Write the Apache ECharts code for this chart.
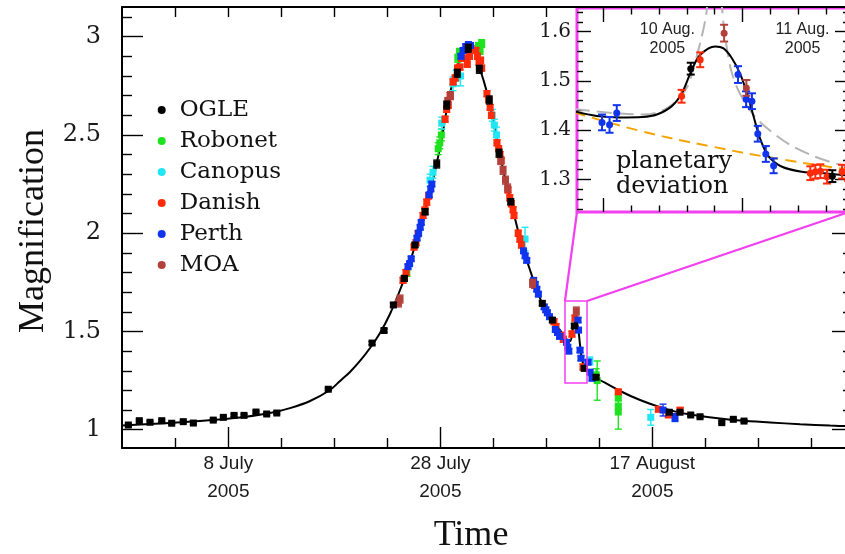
<!DOCTYPE html>
<html>
<head>
<meta charset="utf-8">
<script src="https://cdn.jsdelivr.net/npm/echarts@6/dist/echarts.min.js"></script>
<style>
  html, body { margin: 0; padding: 0; background: #fff; }
  #chart { width: 845px; height: 554px; }
</style>
</head>
<body>
<div id="chart"></div>
<script>
// ---------------------------------------------------------------------------
// Light curve of the 2005 microlensing event.
// Main panel: time in days counted from July (8 July = 8, 1 August = 32).
// Points are [day, magnification, error].
// ---------------------------------------------------------------------------
const ogleMain = [
  [-1.43,1.024,.006],[-0.40,1.046,.006],[0.61,1.038,.006],[1.72,1.046,.006],[2.66,1.033,.006],
  [3.75,1.041,.006],[4.70,1.034,.006],[6.58,1.049,.006],[7.53,1.063,.006],[8.54,1.073,.006],
  [9.48,1.073,.006],[10.61,1.090,.006],[11.62,1.080,.006],[12.57,1.085,.006],[17.43,1.206,.006],
  [21.56,1.441,.008],[22.69,1.505,.008],[23.57,1.635,.01],[24.60,1.770,.012],[25.61,1.940,.012],
  [26.56,2.109,.015],[27.66,2.352,.02],[28.60,2.652,.02],[29.60,2.814,.02],[30.64,2.941,.02],
  [31.68,2.834,.02],[32.62,2.678,.02],[33.54,2.407,.02],[34.64,2.160,.015],[37.62,1.643,.012],
  [38.57,1.558,.012],[40.64,1.528,.012],[41.58,1.312,.01],[42.69,1.267,.01],[49.60,1.089,.006],
  [50.61,1.089,.006],[51.62,1.075,.006],[52.50,1.066,.006],[54.55,1.036,.006],[55.64,1.053,.006],
  [56.65,1.044,.006]
];
const robonetMain = [
  [24.84,1.796,.015],[27.80,2.43,.03],[27.95,2.46,.03],[28.10,2.50,.03],[29.65,2.89,.02],
  [29.80,2.92,.02],[31.60,2.95,.02],[31.75,2.93,.02],[31.90,2.965,.02],[42.70,1.28,.03],
  [42.80,1.25,.10],[44.79,1.162,.015],[44.79,1.119,.015],[44.79,1.09,.087]
];
const canopusMain = [
  [27.03,2.27,.03],[27.31,2.31,.03],[28.13,2.56,.03],[29.20,2.76,.035],[29.50,2.79,.04],
  [29.90,2.80,.05],[32.90,2.60,.03],[33.10,2.55,.03],[33.30,2.50,.04],[35.99,1.97,.06],
  [42.10,1.35,.02],[47.85,1.063,.04]
];
const danishMain = [
  [24.48,1.760,.015],[24.62,1.770,.015],[24.76,1.800,.015],[25.52,1.930,.015],[25.71,1.952,.015],
  [25.90,1.998,.015],[26.37,2.090,.015],[26.55,2.118,.015],[26.72,2.158,.015],[26.90,2.190,.015],
  [28.45,2.580,.015],[28.60,2.630,.015],[28.75,2.652,.015],[28.92,2.700,.015],[29.20,2.770,.015],
  [29.40,2.790,.015],[29.62,2.840,.015],[29.85,2.845,.015],[30.00,2.890,.015],[30.30,2.930,.015],
  [30.45,2.890,.015],[30.60,2.950,.015],[30.75,2.900,.015],[30.90,2.940,.015],[30.55,2.860,.015],
  [31.35,2.930,.015],[31.50,2.900,.015],[31.65,2.870,.015],[31.80,2.880,.015],[31.90,2.840,.015],
  [32.40,2.710,.015],[32.55,2.680,.015],[32.70,2.640,.015],[32.82,2.600,.015],[33.35,2.460,.015],
  [33.50,2.430,.015],[33.63,2.400,.015],[33.75,2.370,.015],[34.39,2.220,.015],[34.55,2.180,.015],
  [34.70,2.150,.015],[34.86,2.120,.015],[34.95,2.090,.015],[35.35,2.000,.015],[35.50,1.970,.015],
  [35.65,1.940,.015],[36.90,1.735,.015],[38.72,1.550,.015],[38.91,1.525,.015],[39.40,1.480,.015],
  [39.60,1.460,.015],[40.42,1.487,.015],[40.70,1.568,.015],[41.46,1.319,.015],[44.79,1.193,.012],
  [48.57,1.104,.012],[49.51,1.075,.012],[50.62,1.100,.012]
];
const perthMain = [
  [24.95,1.830,.012],[25.10,1.845,.012],[25.25,1.870,.012],[25.80,1.975,.012],[25.95,2.000,.012],
  [26.10,2.030,.012],[26.20,2.055,.012],[26.95,2.195,.012],[27.10,2.225,.012],[27.20,2.250,.012],
  [29.95,2.900,.012],[30.15,2.930,.012],[30.40,2.950,.012],[30.65,2.960,.012],[30.85,2.955,.012],
  [35.85,1.910,.012],[36.00,1.885,.012],[36.15,1.862,.012],[36.80,1.760,.012],[36.95,1.740,.012],
  [37.10,1.715,.012],[37.25,1.690,.012],[37.80,1.625,.012],[37.95,1.610,.012],[38.10,1.595,.012],
  [38.30,1.575,.012],[38.85,1.510,.012],[39.05,1.495,.012],[39.25,1.475,.012],[39.90,1.445,.012],
  [40.02,1.420,.012],[40.12,1.400,.012],[40.99,1.558,.012],[41.04,1.507,.012],[41.18,1.405,.012],
  [41.27,1.364,.012],[41.93,1.344,.012],[42.12,1.293,.012],[42.31,1.262,.012],[49.01,1.100,.03],
  [50.14,1.062,.02]
];
const moaMain = [
  [24.05,1.645,.02],[24.20,1.665,.02],[28.70,2.670,.02],[28.95,2.700,.02],[33.70,2.370,.02],
  [33.92,2.320,.02],[34.15,2.270,.02],[34.35,2.230,.02],[36.70,1.745,.02],[40.83,1.604,.02]
];
// best-fit planetary model, [day, magnification]
const modelMain = [
  [-2.03,1.021],[1.56,1.032],[5.33,1.044],[9.10,1.062],[11.93,1.085],[13.82,1.110],[15.71,1.146],
  [17.59,1.202],[18.54,1.248],[19.48,1.294],[20.42,1.350],[21.37,1.416],[22.31,1.492],[23.25,1.589],
  [24.20,1.711],[25.14,1.853],[26.08,2.027],[27.03,2.210],[27.97,2.434],[28.63,2.635],[29.10,2.755],
  [29.58,2.845],[30.05,2.905],[30.52,2.942],[30.75,2.950],[31.18,2.925],[31.65,2.850],[32.12,2.770],
  [32.59,2.675],[33.04,2.555],[33.54,2.420],[34.10,2.280],[34.67,2.158],[35.52,1.975],[36.46,1.813],
  [37.59,1.645],[38.54,1.558],[39.29,1.507],[39.86,1.462],[40.24,1.451],[40.52,1.518],[40.81,1.553],
  [41.00,1.518],[41.18,1.431],[41.37,1.355],[41.65,1.314],[42.12,1.283],[43.07,1.253],[44.96,1.197],
  [46.84,1.151],[48.73,1.115],[50.62,1.087],[52.50,1.070],[54.39,1.057],[56.28,1.047],[59.11,1.037],
  [61.94,1.028],[64.77,1.021],[66.93,1.017]
];
const mainTickDays = [8, 28, 48];
const mainTickLabels = ['8 July\n2005', '28 July\n2005', '17 August\n2005'];
const mainMinorDays = [3, 13, 18, 23, 33, 38, 43, 53, 58, 63];
const mainTopDays = [3, 8, 13, 18, 23, 28, 33, 38];
const mainMajorMag = [1, 1.5, 2, 2.5, 3];
const mainMinorMag = [1.1,1.2,1.3,1.4,1.6,1.7,1.8,1.9,2.1,2.2,2.3,2.4,2.6,2.7,2.8,2.9,3.1];
const rightMajorMag = [1, 1.5, 2];
const rightMinorMag = [1.1,1.2,1.3,1.4,1.6,1.7,1.8,1.9];
// stretch of the main curve shown enlarged in the inset: [day from, day to], [mag low, mag high]
const zoomDays = [39.76, 41.84];
const zoomMags = [1.238, 1.655];

// ---------------------------------------------------------------------------
// Inset: time as day of August 2005.
// ---------------------------------------------------------------------------
const perthZoom = [
  [10.495,1.416,.016],[10.522,1.411,.016],[10.548,1.435,.016],[10.984,1.513,.017],[11.013,1.463,.016],
  [11.034,1.459,.016],[11.055,1.393,.016],[11.084,1.352,.016],[11.112,1.328,.015]
];
const danishZoom = [
  [10.781,1.469,.013],[10.848,1.543,.015],[11.244,1.313,.014],[11.262,1.316,.014],[11.280,1.317,.014],
  [11.304,1.306,.014],[11.358,1.316,.014],[11.380,1.311,.014]
];
const ogleZoom = [[10.814,1.525,.012],[11.323,1.307,.012]];
const moaZoom = [[10.934,1.597,.017],[11.014,1.486,.016]];
const modelZoom = [
  [10.397,1.438],[10.476,1.429],[10.560,1.426],[10.640,1.427],[10.692,1.432],
  [10.746,1.449],[10.782,1.475],[10.812,1.515],[10.842,1.549],[10.878,1.566],[10.902,1.570],
  [10.932,1.566],[10.962,1.546],[10.992,1.514],[11.016,1.475],[11.040,1.428],[11.064,1.382],
  [11.094,1.347],[11.142,1.326],[11.214,1.316],[11.309,1.312],[11.387,1.308]
];
const altModelZoom = [
  [10.397,1.443],[10.477,1.438],[10.560,1.434],[10.640,1.432],[10.693,1.436],[10.740,1.449],
  [10.776,1.468],[10.805,1.492],[10.830,1.539],[10.854,1.591],[10.869,1.632],[10.884,1.685],
  [10.916,1.685],[10.926,1.650],[10.934,1.603],[10.945,1.563],[10.959,1.522],[10.981,1.486],
  [11.010,1.455],[11.049,1.425],[11.100,1.399],[11.172,1.370],[11.250,1.349],[11.315,1.336],
  [11.387,1.325]
];
const singleLensZoom = [
  [10.397,1.436],[10.638,1.398],[10.890,1.367],[11.140,1.341],[11.387,1.320]
];
const insetMajorDays = [10.5, 11.0];
const insetMinorDays = [10.6, 10.7, 10.8, 10.9, 11.1, 11.2, 11.3];
const insetMajorMag = [1.3, 1.4, 1.5, 1.6];
const insetMinorMag = [1.24,1.26,1.28,1.32,1.34,1.36,1.38,1.42,1.44,1.46,1.48,1.52,1.54,1.56,1.58,1.62,1.64];
const insetDateLabels = ['10 Aug.\n2005', '11 Aug.\n2005'];

const telescopes = ['OGLE', 'Robonet', 'Canopus', 'Danish', 'Perth', 'MOA'];
const colors = {
  OGLE: '#000000', Robonet: '#1fe21f', Canopus: '#22e6f4',
  Danish: '#ff2b0a', Perth: '#1034ee', MOA: '#b3413b'
};
const MAGENTA = '#f23ff0';

const MAIN_X = [-2.03, 66.93], MAIN_Y = [0.907, 3.151];
const INSET_X = [10.405, 11.383], INSET_Y = [1.2343, 1.648];

// ---------------------------------------------------------------------------
function errorBars(marker, size, cap, lw) {
  return function (params, api) {
    const x = api.value(0), y = api.value(1), e = api.value(2);
    const p = api.coord([x, y]);
    const top = api.coord([x, y + e])[1];
    const bot = api.coord([x, y - e])[1];
    const color = api.visual('color');
    const st = { stroke: color, lineWidth: lw };
    const kids = [
      { type: 'line', shape: { x1: p[0], y1: top, x2: p[0], y2: bot }, style: st },
      { type: 'line', shape: { x1: p[0] - cap, y1: top, x2: p[0] + cap, y2: top }, style: st },
      { type: 'line', shape: { x1: p[0] - cap, y1: bot, x2: p[0] + cap, y2: bot }, style: st }
    ];
    kids.push(marker === 'square'
      ? { type: 'rect', shape: { x: p[0] - size / 2, y: p[1] - size / 2, width: size, height: size }, style: { fill: color } }
      : { type: 'circle', shape: { cx: p[0], cy: p[1], r: size / 2 }, style: { fill: color } });
    return { type: 'group', children: kids };
  };
}

function pointSeries(name, data, inset) {
  return {
    type: 'custom', name: name, data: data,
    xAxisIndex: inset ? 3 : 0, yAxisIndex: inset ? 4 : 0,
    dimensions: ['t', 'mag', 'err'], encode: { x: 0, y: 1 },
    itemStyle: { color: colors[name] },
    renderItem: inset ? errorBars('circle', 7, 4, 2) : errorBars('square', 7, 3.5, 1.4),
    clip: true, z: 4, silent: true
  };
}

function curve(name, data, xi, yi, color, width, dash, z, smooth) {
  return {
    type: 'line', name: name, data: data, xAxisIndex: xi, yAxisIndex: yi,
    showSymbol: false, smooth: smooth,
    clip: true, silent: true, z: z,
    lineStyle: { color: color, width: width, type: dash || 'solid' }
  };
}

function tickAxis(grid, position, range, ticks, len, extra) {
  return Object.assign({
    type: 'value', gridIndex: grid, position: position, min: range[0], max: range[1],
    axisLine: { show: false, onZero: false },
    axisTick: { show: true, inside: true, length: len, customValues: ticks,
                lineStyle: { color: '#000', width: 1.4 } },
    axisLabel: { show: false },
    splitLine: { show: false }, splitArea: { show: false },
    axisPointer: { show: false }
  }, extra || {});
}

const frameLine = { show: true, onZero: false, lineStyle: { color: '#000', width: 2 } };

const xAxes = [
  tickAxis(0, 'bottom', MAIN_X, mainTickDays, 21, {
    axisLine: frameLine,
    axisLabel: {
      show: true, customValues: mainTickDays, margin: 2,
      fontFamily: 'Liberation Sans', fontSize: 19, lineHeight: 28, color: '#1a1a1a',
      formatter: v => mainTickLabels[mainTickDays.indexOf(Math.round(v))]
    }
  }),
  tickAxis(0, 'bottom', MAIN_X, mainMinorDays, 10),
  tickAxis(0, 'top', MAIN_X, mainTopDays, 10, { axisLine: frameLine }),
  tickAxis(1, 'bottom', INSET_X, insetMajorDays, 14),
  tickAxis(1, 'bottom', INSET_X, insetMinorDays, 6.5),
  tickAxis(1, 'top', INSET_X, insetMajorDays, 14),
  tickAxis(1, 'top', INSET_X, insetMinorDays, 6.5)
];

const yAxes = [
  tickAxis(0, 'left', MAIN_Y, mainMajorMag, 21, {
    axisLine: frameLine,
    axisLabel: {
      show: true, customValues: mainMajorMag, margin: 21,
      fontFamily: 'DejaVu Serif', fontSize: 24, color: '#1a1a1a',
      formatter: v => String(+v.toFixed(2))
    }
  }),
  tickAxis(0, 'left', MAIN_Y, mainMinorMag, 10),
  tickAxis(0, 'right', MAIN_Y, rightMajorMag, 21, { axisLine: frameLine }),
  tickAxis(0, 'right', MAIN_Y, rightMinorMag, 10),
  tickAxis(1, 'left', INSET_Y, insetMajorMag, 14, {
    axisLabel: {
      show: true, customValues: insetMajorMag, margin: 6,
      fontFamily: 'DejaVu Serif', fontSize: 20, color: '#1a1a1a',
      formatter: v => String(+v.toFixed(2))
    }
  }),
  tickAxis(1, 'left', INSET_Y, insetMinorMag, 6),
  tickAxis(1, 'right', INSET_Y, insetMajorMag, 14),
  tickAxis(1, 'right', INSET_Y, insetMinorMag, 6)
];

const series = [
  curve('model', modelMain, 0, 0, '#000', 2, 'solid', 2, 0.35),
  pointSeries('Robonet', robonetMain, false),
  pointSeries('Canopus', canopusMain, false),
  pointSeries('Danish', danishMain, false),
  pointSeries('Perth', perthMain, false),
  pointSeries('MOA', moaMain, false),
  pointSeries('OGLE', ogleMain, false),
  curve('single lens', singleLensZoom, 3, 4, '#f5a300', 2, [11, 7], 3, 0.5),
  curve('alternative model', altModelZoom, 3, 4, '#b4b4b4', 2, [15, 7], 3, 0.3),
  curve('planetary model', modelZoom, 3, 4, '#000', 2, 'solid', 3, 0.35),
  pointSeries('Danish', danishZoom, true),
  pointSeries('Perth', perthZoom, true),
  pointSeries('MOA', moaZoom, true),
  pointSeries('OGLE', ogleZoom, true)
];

const chart = echarts.init(document.getElementById('chart'), null, { renderer: 'canvas' });
chart.setOption({
  animation: false,
  backgroundColor: '#fff',
  grid: [
    { left: 122, top: 7, width: 731, height: 441, outerBoundsMode: 'none' },
    { left: 577, top: 8, width: 272, height: 204, show: true, backgroundColor: '#fff',
      borderColor: MAGENTA, borderWidth: 3, outerBoundsMode: 'none' }
  ],
  xAxis: xAxes,
  yAxis: yAxes,
  legend: {
    orient: 'vertical', left: 157.7, top: 94.5, padding: 0,
    itemWidth: 26, itemHeight: 8, itemGap: 0, selectedMode: false,
    textStyle: { fontFamily: 'DejaVu Serif', fontSize: 23, color: '#111', lineHeight: 31 },
    data: telescopes.map(n => ({ name: n, icon: 'circle', itemStyle: { color: colors[n] } }))
  },
  series: series
});

// Zoom box on the main curve, joined to the inset's lower corners.
const boxA = chart.convertToPixel({ xAxisIndex: 0, yAxisIndex: 0 }, [zoomDays[0], zoomMags[1]]);
const boxB = chart.convertToPixel({ xAxisIndex: 0, yAxisIndex: 0 }, [zoomDays[1], zoomMags[0]]);
const insL = chart.convertToPixel({ xAxisIndex: 3, yAxisIndex: 4 }, [INSET_X[0], INSET_Y[0]]);
const insR = chart.convertToPixel({ xAxisIndex: 3, yAxisIndex: 4 }, [INSET_X[1], INSET_Y[0]]);
const dateL = chart.convertToPixel({ xAxisIndex: 3, yAxisIndex: 4 }, [10.73, 1.5854]);
const dateR = chart.convertToPixel({ xAxisIndex: 3, yAxisIndex: 4 }, [11.216, 1.5854]);

chart.setOption({
  graphic: [
    { type: 'rect', z: 20, shape: { x: boxA[0], y: boxA[1], width: boxB[0] - boxA[0], height: boxB[1] - boxA[1] },
      style: { fill: 'none', stroke: MAGENTA, lineWidth: 1.5 } },
    { type: 'line', z: 20, shape: { x1: boxA[0], y1: boxA[1], x2: insL[0], y2: insL[1] },
      style: { stroke: MAGENTA, lineWidth: 2.2 } },
    { type: 'line', z: 20, shape: { x1: boxB[0], y1: boxA[1], x2: insR[0], y2: insR[1] },
      style: { stroke: MAGENTA, lineWidth: 2.2 } },
    { type: 'text', z: 20, x: dateL[0], y: dateL[1],
      style: { text: insetDateLabels[0], fontFamily: 'Liberation Sans', fontSize: 16, lineHeight: 19.5,
               fill: '#222', align: 'center', verticalAlign: 'middle' } },
    { type: 'text', z: 20, x: dateR[0], y: dateR[1],
      style: { text: insetDateLabels[1], fontFamily: 'Liberation Sans', fontSize: 16, lineHeight: 19.5,
               fill: '#222', align: 'center', verticalAlign: 'middle' } },
    { type: 'text', z: 20, x: 616, y: 174.5,
      style: { text: 'planetary\ndeviation', fontFamily: 'DejaVu Serif', fontSize: 24, lineHeight: 24.5,
               fill: '#111', align: 'left', verticalAlign: 'middle' } },
    { type: 'text', z: 20, x: 34, y: 231, rotation: Math.PI / 2,
      style: { text: 'Magnification', fontFamily: 'Liberation Serif', fontSize: 36,
               fill: '#111', align: 'center', verticalAlign: 'middle' } },
    { type: 'text', z: 20, x: 471, y: 536,
      style: { text: 'Time', fontFamily: 'Liberation Serif', fontSize: 36,
               fill: '#111', align: 'center', verticalAlign: 'middle' } }
  ]
});
</script>
</body>
</html>
